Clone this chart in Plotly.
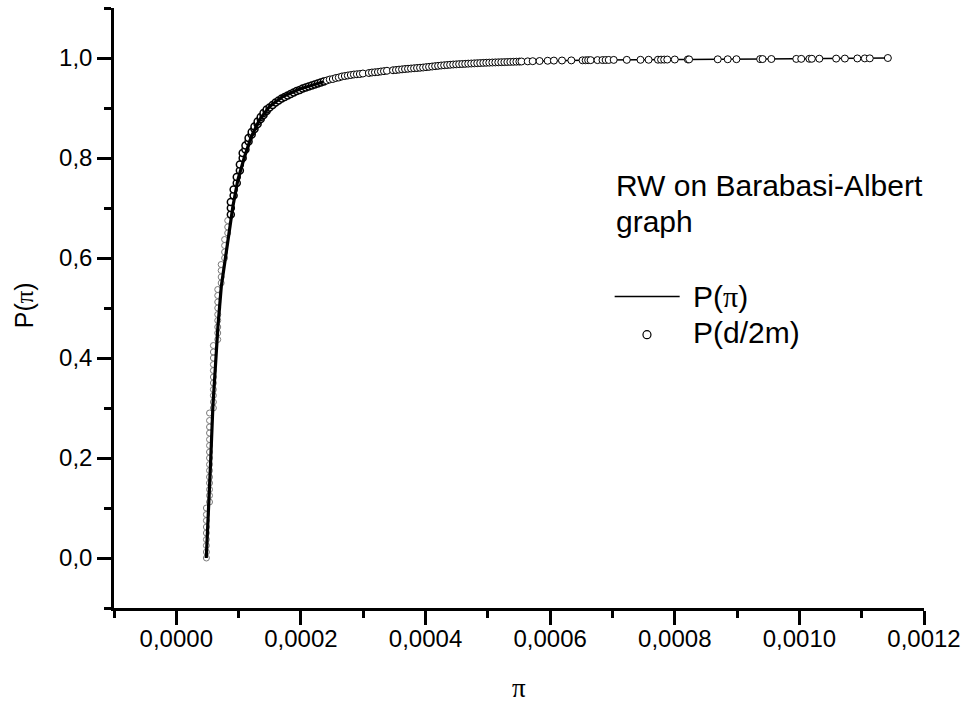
import numpy as np
import plotly.graph_objects as go

# Stationary probability pi of the random walk (smooth curve) and its cumulative share P(pi)
LINE_PI = [4.81e-5, 5.23e-5, 5.50e-5, 5.87e-5, 6.31e-5, 6.68e-5, 7.22e-5, 7.91e-5,
           8.28e-5, 9.08e-5, 9.89e-5, 1.096e-4, 1.204e-4, 1.337e-4, 1.497e-4,
           1.711e-4, 1.979e-4, 2.300e-4, 2.620e-4, 2.890e-4, 3.270e-4, 3.900e-4,
           4.550e-4, 5.190e-4, 5.830e-4]
LINE_P = [0.000, 0.103, 0.190, 0.303, 0.397, 0.463, 0.543, 0.603,
          0.637, 0.703, 0.757, 0.803, 0.843, 0.877, 0.903,
          0.923, 0.938, 0.950, 0.962, 0.967, 0.973, 0.980,
          0.987, 0.991, 0.994]

# d/2m values (degree over twice the edge count) and their cumulative share
DEG_PI = (
    [4.83e-5] * 9 + [5.33e-5] * 15 + [5.95e-5] * 11 + [6.65e-5] * 9 + [7.20e-5] * 4
    + [7.75e-5] * 4 + [8.25e-5] * 3 + [8.75e-5] * 3 + [9.20e-5] * 2 + [9.70e-5] * 2
    + [1.020e-4] * 2 + [1.065e-4] * 2 + [1.110e-4] * 2 + [1.160e-4] * 2 + [1.210e-4] * 2
    + [1.255e-4] * 2 + [1.305e-4] * 2 + [1.355e-4] * 2 + [1.400e-4] * 2 + [1.450e-4] * 2
    + [1.497e-4, 1.546e-4, 1.594e-4, 1.642e-4, 1.691e-4, 1.739e-4, 1.787e-4, 1.835e-4,
       1.884e-4, 1.932e-4, 1.980e-4, 2.029e-4, 2.077e-4, 2.125e-4, 2.174e-4, 2.222e-4,
       2.270e-4, 2.318e-4, 2.367e-4, 2.415e-4, 2.463e-4, 2.512e-4, 2.560e-4, 2.608e-4,
       2.657e-4, 2.705e-4, 2.753e-4, 2.801e-4, 2.850e-4, 2.898e-4,
       2.946e-4, 2.995e-4, 3.091e-4, 3.140e-4, 3.188e-4, 3.236e-4, 3.284e-4, 3.333e-4,
       3.381e-4, 3.478e-4, 3.526e-4, 3.574e-4, 3.623e-4, 3.671e-4, 3.719e-4, 3.767e-4,
       3.816e-4, 3.864e-4, 3.912e-4, 3.961e-4, 4.009e-4, 4.057e-4, 4.106e-4, 4.154e-4,
       4.202e-4, 4.250e-4, 4.299e-4, 4.347e-4, 4.395e-4, 4.444e-4, 4.492e-4, 4.540e-4,
       4.589e-4, 4.637e-4, 4.685e-4, 4.733e-4, 4.782e-4, 4.830e-4, 4.878e-4, 4.927e-4,
       4.975e-4, 5.023e-4, 5.072e-4, 5.120e-4, 5.168e-4, 5.216e-4, 5.265e-4, 5.313e-4,
       5.361e-4, 5.410e-4, 5.458e-4, 5.506e-4, 5.540e-4, 5.640e-4, 5.720e-4, 5.830e-4,
       5.960e-4]
)
DEG_P = (
    [0.000, 0.012, 0.025, 0.037, 0.050, 0.062, 0.075, 0.087, 0.100]
    + [0.112, 0.125, 0.137, 0.150, 0.162, 0.175, 0.187, 0.200, 0.212, 0.225, 0.237,
       0.250, 0.262, 0.275, 0.290]
    + [0.300, 0.312, 0.325, 0.337, 0.350, 0.362, 0.375, 0.387, 0.400, 0.412, 0.425]
    + [0.437, 0.450, 0.462, 0.475, 0.487, 0.500, 0.512, 0.525, 0.537]
    + [0.550, 0.562, 0.575, 0.587]
    + [0.600, 0.612, 0.625, 0.637]
    + [0.650, 0.662, 0.675]
    + [0.687, 0.700, 0.712]
    + [0.725, 0.737, 0.750, 0.762, 0.775, 0.787, 0.800, 0.810, 0.817, 0.825, 0.833, 0.840,
       0.847, 0.852, 0.858, 0.863, 0.868, 0.873, 0.878, 0.882, 0.886, 0.890, 0.894, 0.897]
    + [0.901, 0.906, 0.911, 0.915, 0.919, 0.922, 0.925, 0.928,
       0.931, 0.934, 0.936, 0.939, 0.941, 0.943, 0.945, 0.947,
       0.949, 0.951, 0.953, 0.955, 0.957, 0.958, 0.960, 0.961,
       0.963, 0.964, 0.965, 0.966, 0.967, 0.9675,
       0.968, 0.969, 0.970, 0.971, 0.9715, 0.972, 0.973, 0.9737,
       0.9745, 0.9755, 0.976, 0.9767, 0.9773, 0.978, 0.9785, 0.979,
       0.9795, 0.980, 0.9805, 0.981, 0.9817, 0.9823, 0.983, 0.9837,
       0.9843, 0.985, 0.9855, 0.986, 0.9865, 0.987, 0.9873, 0.9877,
       0.988, 0.9883, 0.9887, 0.989, 0.9893, 0.9896, 0.9899, 0.9902,
       0.9905, 0.9907, 0.991, 0.9912, 0.9914, 0.9916, 0.9918, 0.992,
       0.9922, 0.9924, 0.9926, 0.9928, 0.993, 0.9933, 0.9936, 0.994,
       0.9945]
)

# Sparse high-degree tail, shared by both series
TAIL_PI = [0.000606, 0.000619, 0.000634, 0.000652, 0.000657, 0.000661, 0.000665, 0.000676,
           0.000684, 0.000689, 0.000694, 0.000702, 0.000723, 0.000745, 0.000758, 0.000773,
           0.000778, 0.000783, 0.000788, 0.000800, 0.000821, 0.000823, 0.000869, 0.000885,
           0.000899, 0.000937, 0.000941, 0.000955, 0.000995, 0.001003, 0.001016, 0.001020,
           0.001032, 0.001059, 0.001073, 0.001093, 0.001105, 0.001113, 0.001142]
TAIL_P = [0.9948, 0.9950, 0.9952, 0.9954, 0.9955, 0.9956, 0.9957, 0.9958,
          0.9959, 0.9960, 0.9961, 0.9962, 0.9963, 0.9964, 0.9965, 0.9966,
          0.9967, 0.9968, 0.9969, 0.9970, 0.9971, 0.9972, 0.9974, 0.9975,
          0.9976, 0.9978, 0.9979, 0.9980, 0.9982, 0.9983, 0.9984, 0.9985,
          0.9986, 0.9988, 0.9989, 0.9991, 0.9992, 0.9993, 1.0000]

X_TICKS = [0.0, 0.0002, 0.0004, 0.0006, 0.0008, 0.0010, 0.0012]
Y_TICKS = [0.0, 0.2, 0.4, 0.6, 0.8, 1.0]

SANS = "Liberation Sans, Arial, Helvetica, sans-serif"
SERIF = "Liberation Serif, Times New Roman, serif"
PI = f"<span style='font-family:{SERIF}'>π</span>"

# plot-area geometry in pixels, used to place the key
W, H = 968, 704
L, R, T, B = 114.4, 43.7, 8.3, 95.7
PW, PH = W - L - R, H - T - B


def px(x):
    return (x - L) / PW


def py(y):
    return (H - B - y) / PH


deg_pi = np.array(DEG_PI + TAIL_PI)
deg_p = np.array(DEG_P + TAIL_P)
steep = deg_pi < 8.5e-5
knee = (deg_pi >= 8.5e-5) & (deg_pi < 2.4e-4)
flat = deg_pi >= 2.4e-4

fig = go.Figure()
# steep part: faint open circles under the curve
fig.add_trace(go.Scatter(
    x=deg_pi[steep], y=deg_p[steep], mode="markers",
    marker=dict(symbol="circle-open", size=6, color="#7a7a7a", line=dict(width=1)),
    hoverinfo="skip", showlegend=False))
# knee: filled circles, still under the curve
fig.add_trace(go.Scatter(
    x=deg_pi[knee], y=deg_p[knee], mode="markers",
    marker=dict(symbol="circle", size=7, color="white",
                line=dict(color="black", width=1.5)),
    hoverinfo="skip", showlegend=False))
# P(pi): bold over the dense range, thin where it links the sparse tail
fig.add_trace(go.Scatter(
    x=LINE_PI, y=LINE_P, mode="lines",
    line=dict(color="black", width=3.2), name="P(π)", showlegend=False))
fig.add_trace(go.Scatter(
    x=LINE_PI[-1:] + TAIL_PI, y=LINE_P[-1:] + TAIL_P, mode="lines",
    line=dict(color="black", width=1.5), hoverinfo="skip", showlegend=False))
# flat part: circles drawn over the curve
fig.add_trace(go.Scatter(
    x=deg_pi[flat], y=deg_p[flat], mode="markers",
    marker=dict(symbol="circle", size=7, color="white",
                line=dict(color="black", width=1)),
    name="P(d/2m)", showlegend=False))

axis_common = dict(
    showline=True, linecolor="black", linewidth=2.5, mirror=False,
    showgrid=False, zeroline=False,
    ticks="outside", ticklen=14, tickwidth=2.5, tickcolor="black",
    tickfont=dict(family=SANS, size=24, color="black"),
)
fig.update_xaxes(range=[-0.0001, 0.0012], tickvals=X_TICKS, tickformat=".4f",
                 ticklabelstandoff=-7,
                 minor=dict(ticks="outside", dtick=0.0001, tick0=0, ticklen=7,
                            tickwidth=2.5, tickcolor="black"),
                 **axis_common)
fig.update_yaxes(range=[-0.1, 1.1], tickvals=Y_TICKS, tickformat=".1f",
                 minor=dict(ticks="outside", dtick=0.1, tick0=0, ticklen=7,
                            tickwidth=2.5, tickcolor="black"),
                 **axis_common)

ann = []
ann.append(dict(text=PI, x=0.5, y=py(688), xref="paper", yref="paper",
                xanchor="center", yanchor="middle", showarrow=False,
                font=dict(family=SERIF, size=27, color="black")))
ann.append(dict(text=f"P({PI})", x=px(24), y=py(306), xref="paper", yref="paper",
                xanchor="center", yanchor="middle", textangle=-90, showarrow=False,
                font=dict(family=SANS, size=25, color="black")))
key_font = dict(family=SANS, size=30, color="black")
for txt, yy in [("RW on Barabasi-Albert", 186.0), ("graph", 222.0)]:
    ann.append(dict(text=txt, x=px(614), y=py(yy), xref="paper", yref="paper",
                    xanchor="left", yanchor="middle", showarrow=False, font=key_font))
ann.append(dict(text=f"P({PI})", x=px(691), y=py(296.5), xref="paper", yref="paper",
                xanchor="left", yanchor="middle", showarrow=False, font=key_font))
ann.append(dict(text="P(d/2m)", x=px(691), y=py(332.5), xref="paper", yref="paper",
                xanchor="left", yanchor="middle", showarrow=False, font=key_font))

shapes = [
    dict(type="line", xref="paper", yref="paper", x0=px(615), x1=px(680),
         y0=py(296.7), y1=py(296.7), line=dict(color="black", width=1.5)),
    dict(type="circle", xref="paper", yref="paper", x0=px(643.3), x1=px(651.3),
         y0=py(339), y1=py(331), line=dict(color="black", width=1.2),
         fillcolor="white"),
]

fig.update_layout(
    width=W, height=H, margin=dict(l=L, r=R, t=T, b=B, autoexpand=False),
    paper_bgcolor="white", plot_bgcolor="white",
    separators=",.", showlegend=False,
    annotations=ann, shapes=shapes,
    font=dict(family=SANS, color="black"),
)

fig.write_html("out.html")
